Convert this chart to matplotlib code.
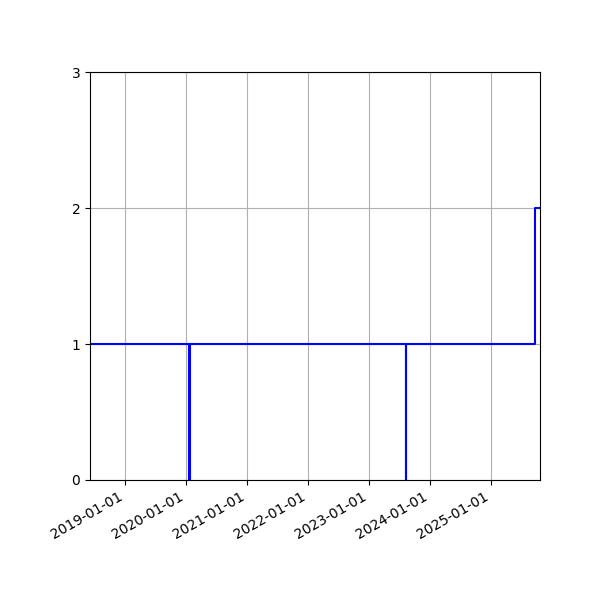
import matplotlib
matplotlib.use("Agg")
import matplotlib.dates as mdates
import matplotlib.pyplot as plt
import numpy as np

dates = np.array(
    ["2018-06-05", "2020-01-19", "2020-01-25", "2023-08-09",
     "2023-08-10", "2025-09-23", "2025-10-23"],
    dtype="datetime64[D]",
)
values = [1, 0, 1, 0, 1, 2, 2]
y_ticks = [0, 1, 2, 3]

fig, ax = plt.subplots(figsize=(6, 6), dpi=100)
ax.step(dates, values, where="post", color="blue", linewidth=1.5)

ax.set_xlim(dates[0], dates[-1])
ax.set_ylim(0, 3)
ax.set_yticks(y_ticks)
ax.xaxis.set_major_locator(mdates.YearLocator())
ax.xaxis.set_major_formatter(mdates.DateFormatter("%Y-%m-%d"))
ax.grid(True)

fig.autofmt_xdate()
fig.subplots_adjust(left=0.15, right=0.9, top=0.88, bottom=0.2)
fig.savefig("out.png", dpi=100)
